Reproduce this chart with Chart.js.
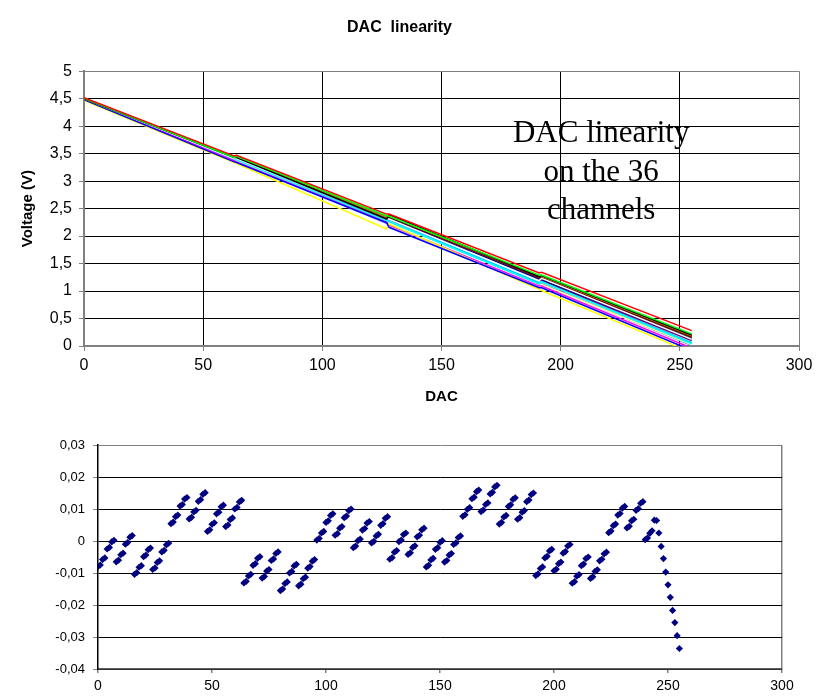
<!DOCTYPE html>
<html>
<head>
<meta charset="utf-8">
<script src="https://cdn.jsdelivr.net/npm/chart.js@4.4.1/dist/chart.umd.min.js"></script>
<style>
  html, body { margin: 0; padding: 0; background: #fff; }
  #page { position: relative; width: 822px; height: 697px; }
  #top { position: absolute; left: 0; top: 0; }
  #bottom { position: absolute; left: 0; top: 420px; }
</style>
</head>
<body>
<div id="page">
  <canvas id="top" width="822" height="420"></canvas>
  <canvas id="bottom" width="822" height="277"></canvas>
</div>
<script>
// DAC codes where each channel's curve is sampled (segment ends of the 64-code blocks)
const dacKnots = [0, 63, 64, 127, 128, 191, 192, 255];

// output voltage of the 36 channels at those codes
const channelVolts = [
  [4.52, 3.46, 3.47, 2.40, 2.40, 1.33, 1.34, 0.28],
  [4.51, 3.43, 3.45, 2.37, 2.36, 1.29, 1.29, 0.22],
  [4.50, 3.43, 3.43, 2.31, 2.39, 1.26, 1.28, 0.20],
  [4.50, 3.41, 3.41, 2.31, 2.31, 1.19, 1.23, 0.12],
  [4.48, 3.35, 3.34, 2.24, 2.16, 1.06, 1.06, -0.08],
  [4.47, 3.34, 3.32, 2.13, 2.22, 1.03, 1.01, -0.12],
  [4.49, 3.37, 3.35, 2.25, 2.20, 1.09, 1.09, -0.04],
  [4.50, 3.39, 3.39, 2.28, 2.26, 1.13, 1.17, 0.04],
  [4.50, 3.41, 3.41, 2.30, 2.32, 1.21, 1.21, 0.12],
  [4.51, 3.42, 3.40, 2.30, 2.31, 1.21, 1.19, 0.10],
  [4.50, 3.42, 3.42, 2.32, 2.34, 1.24, 1.24, 0.16],
  [4.49, 3.42, 3.40, 2.31, 2.32, 1.22, 1.23, 0.14],
  [4.50, 3.39, 3.40, 2.27, 2.29, 1.15, 1.18, 0.06],
  [4.50, 3.41, 3.39, 2.29, 2.29, 1.18, 1.18, 0.08],
  [4.51, 3.41, 3.41, 2.31, 2.29, 1.20, 1.18, 0.09],
  [4.48, 3.38, 3.36, 2.24, 2.26, 1.14, 1.12, 0.02],
  [4.50, 3.39, 3.39, 2.27, 2.28, 1.15, 1.17, 0.05],
  [4.49, 3.40, 3.38, 2.27, 2.29, 1.17, 1.17, 0.07],
  [4.50, 3.41, 3.41, 2.30, 2.31, 1.20, 1.21, 0.11],
  [4.51, 3.43, 3.41, 2.32, 2.32, 1.22, 1.22, 0.13],
  [4.49, 3.38, 3.37, 2.23, 2.27, 1.13, 1.13, 0.01],
  [4.50, 3.40, 3.41, 2.30, 2.30, 1.18, 1.21, 0.10],
  [4.51, 3.43, 3.43, 2.33, 2.35, 1.25, 1.25, 0.17],
  [4.48, 3.38, 3.36, 2.25, 2.26, 1.15, 1.13, 0.03],
  [4.50, 3.42, 3.42, 2.31, 2.34, 1.23, 1.24, 0.15],
  [4.51, 3.44, 3.42, 2.34, 2.35, 1.26, 1.26, 0.18],
  [4.50, 3.41, 3.41, 2.31, 2.32, 1.22, 1.22, 0.13],
  [4.49, 3.41, 3.39, 2.30, 2.31, 1.20, 1.22, 0.12],
  [4.50, 3.41, 3.42, 2.31, 2.33, 1.22, 1.23, 0.14],
  [4.51, 3.43, 3.42, 2.32, 2.34, 1.23, 1.24, 0.15],
  [4.50, 3.42, 3.42, 2.32, 2.35, 1.25, 1.25, 0.17],
  [4.49, 3.42, 3.40, 2.32, 2.33, 1.24, 1.24, 0.16],
  [4.51, 3.43, 3.44, 2.35, 2.35, 1.26, 1.27, 0.19],
  [4.50, 3.41, 3.39, 2.29, 2.30, 1.18, 1.20, 0.09],
  [4.49, 3.40, 3.40, 2.30, 2.30, 1.20, 1.20, 0.11],
  [4.50, 3.42, 3.43, 2.33, 2.35, 1.25, 1.26, 0.18]
];

const channelColors = [
  '#FF0000', '#00FF00', '#000000', '#FFFFFF', '#0000FF', '#FFFF00', '#FF00FF', '#00FFFF',
  '#000080', '#800080', '#800000', '#008080', '#00CCFF', '#CCFFFF', '#CCFFCC', '#FFFF99',
  '#99CCFF', '#FF99CC', '#CC99FF', '#FFCC99', '#3366FF', '#33CCCC', '#99CC00', '#FFCC00',
  '#FF9900', '#FF6600', '#666699', '#969696', '#003366', '#339966', '#003300', '#333300',
  '#993300', '#993366', '#333399', '#333333'
];

// deviation from the straight fit, one value per DAC code 0..255 (V)
const residual = [
  -0.0080, -0.0075, -0.0058, -0.0053, -0.0025, -0.0020, -0.0003, 0.0002, -0.0065, -0.0060, -0.0043, -0.0038, -0.0010, -0.0005, 0.0012, 0.0017,
  -0.0104, -0.0099, -0.0082, -0.0077, -0.0049, -0.0044, -0.0027, -0.0022, -0.0089, -0.0084, -0.0067, -0.0062, -0.0034, -0.0029, -0.0012, -0.0007,
  0.0054, 0.0059, 0.0076, 0.0081, 0.0109, 0.0114, 0.0131, 0.0136, 0.0069, 0.0074, 0.0091, 0.0096, 0.0124, 0.0129, 0.0146, 0.0151,
  0.0030, 0.0035, 0.0052, 0.0057, 0.0085, 0.0090, 0.0107, 0.0112, 0.0045, 0.0050, 0.0067, 0.0072, 0.0100, 0.0105, 0.0122, 0.0127,
  -0.0131, -0.0126, -0.0109, -0.0104, -0.0076, -0.0071, -0.0054, -0.0049, -0.0116, -0.0111, -0.0094, -0.0089, -0.0061, -0.0056, -0.0039, -0.0034,
  -0.0155, -0.0150, -0.0133, -0.0128, -0.0100, -0.0095, -0.0078, -0.0073, -0.0140, -0.0135, -0.0118, -0.0113, -0.0085, -0.0080, -0.0063, -0.0058,
  0.0003, 0.0008, 0.0025, 0.0030, 0.0058, 0.0063, 0.0080, 0.0085, 0.0018, 0.0023, 0.0040, 0.0045, 0.0073, 0.0078, 0.0095, 0.0100,
  -0.0021, -0.0016, 0.0001, 0.0006, 0.0034, 0.0039, 0.0056, 0.0061, -0.0006, -0.0001, 0.0016, 0.0021, 0.0049, 0.0054, 0.0071, 0.0076,
  -0.0057, -0.0052, -0.0035, -0.0030, -0.0002, 0.0003, 0.0020, 0.0025, -0.0042, -0.0037, -0.0020, -0.0015, 0.0013, 0.0018, 0.0035, 0.0040,
  -0.0081, -0.0076, -0.0059, -0.0054, -0.0026, -0.0021, -0.0004, 0.0001, -0.0066, -0.0061, -0.0044, -0.0039, -0.0011, -0.0006, 0.0011, 0.0016,
  0.0077, 0.0082, 0.0099, 0.0104, 0.0132, 0.0137, 0.0154, 0.0159, 0.0092, 0.0097, 0.0114, 0.0119, 0.0147, 0.0152, 0.0169, 0.0174,
  0.0053, 0.0058, 0.0075, 0.0080, 0.0108, 0.0113, 0.0130, 0.0135, 0.0068, 0.0073, 0.0090, 0.0095, 0.0123, 0.0128, 0.0145, 0.0150,
  -0.0108, -0.0103, -0.0086, -0.0081, -0.0053, -0.0048, -0.0031, -0.0026, -0.0093, -0.0088, -0.0071, -0.0066, -0.0038, -0.0033, -0.0016, -0.0011,
  -0.0132, -0.0127, -0.0110, -0.0105, -0.0077, -0.0072, -0.0055, -0.0050, -0.0117, -0.0112, -0.0095, -0.0090, -0.0062, -0.0057, -0.0040, -0.0035,
  0.0026, 0.0031, 0.0048, 0.0053, 0.0081, 0.0086, 0.0103, 0.0108, 0.0041, 0.0046, 0.0063, 0.0068, 0.0096, 0.0101, 0.0118, 0.0123,
  0.0004, 0.0009, 0.0024, 0.0032, 0.0065, 0.0064, 0.0025, -0.0017, -0.0055, -0.0097, -0.0137, -0.0176, -0.0217, -0.0255, -0.0296, -0.0336
];

const noteLines = ['DAC linearity', 'on the 36', 'channels'];

const sans = 'Arial, "Liberation Sans", sans-serif';
const serif = '"Times New Roman", "Liberation Serif", serif';

// decimal comma like the spreadsheet it came from
function comma(v) {
  if (Math.abs(v) < 1e-9) return '0';
  return String(Math.round(v * 100) / 100).replace('.', ',');
}

// free text box sitting inside the upper plot
const notePlugin = {
  id: 'note',
  afterDraw(chart) {
    const ctx = chart.ctx;
    const x = chart.scales.x.getPixelForValue(217);
    const y = chart.scales.y.getPixelForValue(3.71);
    ctx.save();
    ctx.font = '31px ' + serif;
    ctx.fillStyle = '#000';
    ctx.textAlign = 'center';
    ctx.textBaseline = 'alphabetic';
    noteLines.forEach((t, i) => ctx.fillText(t, x, y + i * 38.5));
    ctx.restore();
  }
};

let grafTop = document.getElementById('top').getContext('2d');

var chartTop = new Chart(grafTop, {
  type: 'line',
  data: {
    datasets: channelVolts.map((volts, i) => ({
      label: 'channel ' + (i + 1),
      data: volts.map((v, k) => ({ x: dacKnots[k], y: v })),
      borderColor: channelColors[i],
      backgroundColor: channelColors[i],
      borderWidth: 1.5,
      pointRadius: 0,
      fill: false,
      tension: 0
    }))
  },
  options: {
    responsive: false,
    animation: false,
    events: [],
    layout: { padding: { left: 0, right: 23, top: 0, bottom: 10 } },
    plugins: {
      legend: { display: false },
      tooltip: { enabled: false },
      title: {
        display: true,
        text: 'DAC  linearity',
        color: '#000',
        font: { family: sans, size: 16, weight: 'bold' },
        padding: { top: 18, bottom: 34 }
      }
    },
    scales: {
      x: {
        type: 'linear',
        min: 0,
        max: 300,
        ticks: { stepSize: 50, color: '#000', font: { family: sans, size: 16 }, padding: 5, maxRotation: 0 },
        grid: {
          color: c => (c.tick && c.tick.value === 300 ? '#808080' : '#000'),
          lineWidth: 1,
          tickLength: 5,
          tickColor: '#808080'
        },
        border: { color: '#808080', width: 2 },
        title: {
          display: true,
          text: 'DAC',
          color: '#000',
          font: { family: sans, size: 15, weight: 'bold' },
          padding: { top: 0, bottom: 4 }
        },
        afterFit: s => { s.height = 64; }
      },
      y: {
        min: 0,
        max: 5,
        ticks: { stepSize: 0.5, color: '#000', font: { family: sans, size: 16 }, padding: 7, callback: v => comma(v) },
        grid: {
          color: c => (c.tick && c.tick.value === 5 ? '#808080' : '#000'),
          lineWidth: 1,
          tickLength: 5,
          tickColor: '#808080'
        },
        border: { color: '#808080', width: 2 },
        title: {
          display: true,
          text: 'Voltage (V)',
          color: '#000',
          font: { family: sans, size: 15, weight: 'bold' },
          padding: { top: 19, bottom: 0 }
        },
        afterFit: s => { s.width = 84; }
      }
    }
  },
  plugins: [notePlugin]
});

let grafBottom = document.getElementById('bottom').getContext('2d');

var chartBottom = new Chart(grafBottom, {
  type: 'scatter',
  data: {
    datasets: [{
      label: 'residual',
      data: residual.map((r, i) => ({ x: i, y: r })),
      pointStyle: 'rectRot',
      pointRadius: 3.6,
      backgroundColor: '#000080',
      borderColor: '#000080',
      borderWidth: 0
    }]
  },
  options: {
    responsive: false,
    animation: false,
    events: [],
    layout: { padding: { left: 0, right: 40, top: 25, bottom: 0 } },
    plugins: { legend: { display: false }, tooltip: { enabled: false } },
    scales: {
      x: {
        type: 'linear',
        min: 0,
        max: 300,
        ticks: { stepSize: 50, color: '#000', font: { family: sans, size: 14 }, padding: 5, maxRotation: 0 },
        grid: {
          color: c => (c.tick && c.tick.value === 300 ? '#808080' : 'rgba(0,0,0,0)'),
          lineWidth: 1.5,
          tickLength: 4,
          tickColor: '#808080'
        },
        border: { color: '#606060', width: 1.5 },
        afterFit: s => { s.height = 28; }
      },
      y: {
        min: -0.04,
        max: 0.03,
        ticks: { stepSize: 0.01, color: '#000', font: { family: sans, size: 13 }, padding: 8, callback: v => comma(v) },
        grid: {
          color: c => (c.tick && c.tick.value > 0.0299 ? '#808080' : '#000'),
          lineWidth: 1,
          tickLength: 5,
          tickColor: '#808080'
        },
        border: { color: '#000', width: 1.5 },
        afterFit: s => { s.width = 98; }
      }
    }
  }
});
</script>
</body>
</html>
